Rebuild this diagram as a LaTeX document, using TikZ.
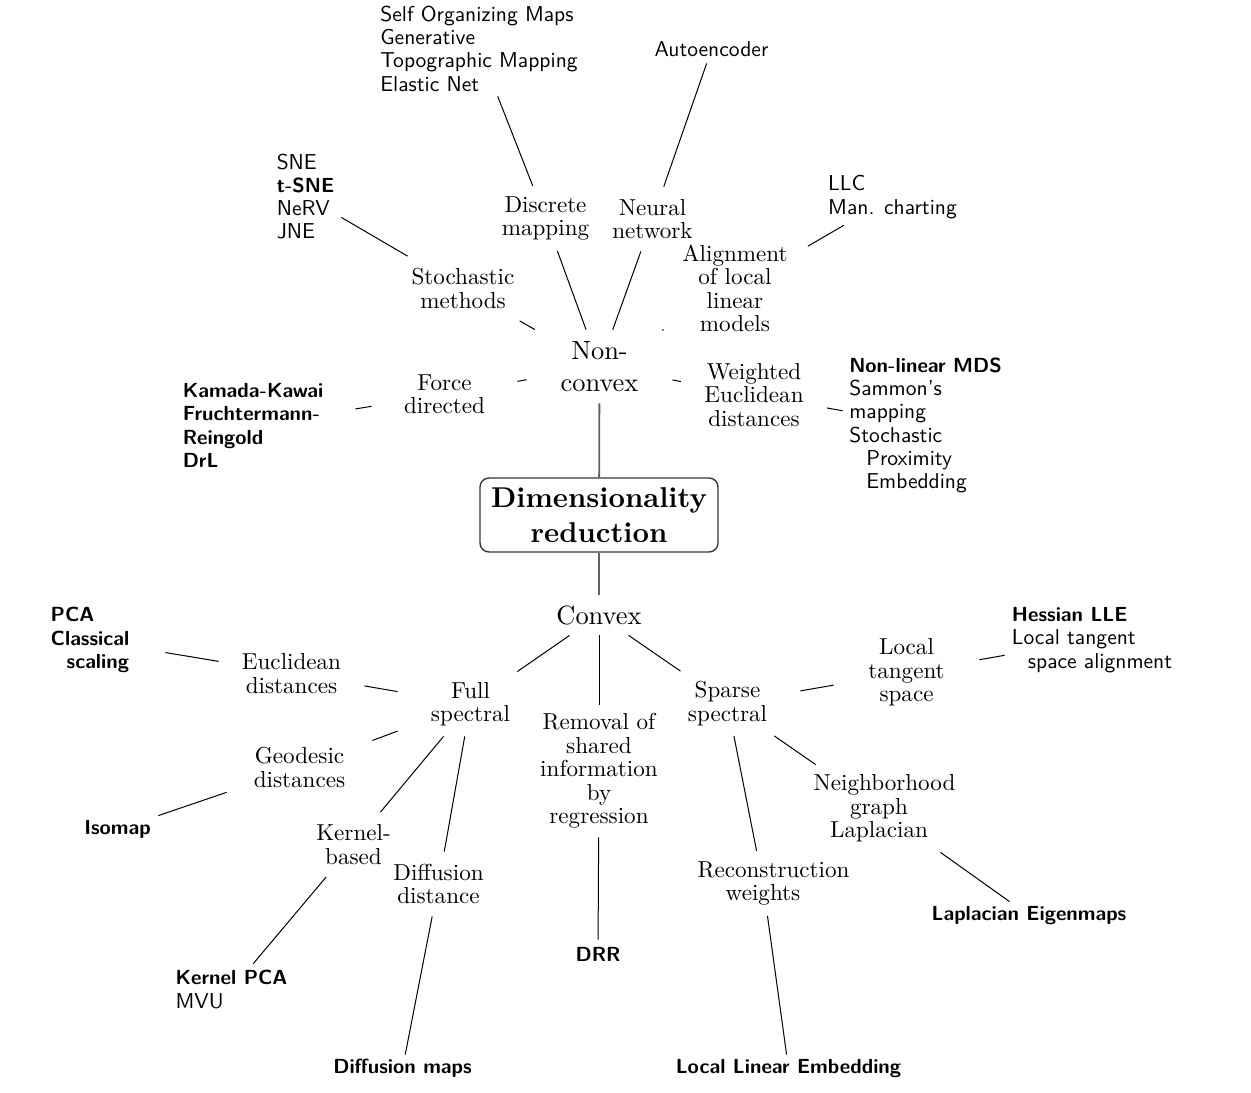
\documentclass[tikz,border=0pt]{standalone}
\usepackage{fontspec}
\setmainfont{lmroman10-regular.otf}[BoldFont=lmroman10-bold.otf, ItalicFont=lmroman10-italic.otf]
\newcommand\lbf[1]{{\fontsize{10.2}{11.65}\selectfont\bfseries #1}}
\begin{document}
\begin{tikzpicture}[x=0.5pt,y=-0.5pt,
 cat/.style={rectangle, align=center, text width=65.5pt, inner xsep=3.5pt, inner ysep=0pt, minimum height=32pt, font=\fontsize{11.55}{11.75}\selectfont},
 catbig/.style={cat, font=\fontsize{13.2}{16}\selectfont},
 leaf/.style={rectangle, align=left, inner sep=0pt, font=\fontsize{10.77}{11.65}\sffamily},
 leafb/.style={leaf, font=\fontsize{10.2}{11.65}\sffamily\bfseries},
 conn/.style={draw=black, line width=0.5pt},
 rootconn/.style={draw=black!62, line width=0.9pt},
 rootbox/.style={rectangle, rounded corners=4.5pt, draw=black!78, line width=0.7pt, align=center, inner sep=0pt, minimum width=119pt, minimum height=37pt, font=\fontsize{14.33}{17.5}\bfseries}]
\useasboundingbox (0,0) rectangle (1251,1092);

% root and main branches
\node[rootbox] (root) at (599,515) {Dimensionality\\reduction};
\node[catbig, minimum height=36.5pt] (nc) at (599.5,366.5) {Non-\\convex};
\node[catbig, minimum height=20pt] (cv) at (599,615) {Convex};

% non-convex categories
\node[cat] (disc) at (545.5,218.5) {Discrete\\mapping};
\node[cat] (neur) at (652.5,219) {Neural\\network};
\node[cat] (stoch) at (463,288.5) {Stochastic\\methods};
\node[cat, minimum height=55pt] (aln) at (735,288.5) {Alignment\\of local\\linear\\models};
\node[cat] (force) at (444.5,394.5) {Force\\directed};
\node[cat, minimum height=43.5pt] (wed) at (754,395) {Weighted\\Euclidean\\distances};

% non-convex leaves
\node[leaf, minimum width=107pt, minimum height=47.5pt] (som) at (479,48.5) {Self Organizing Maps\\Generative\\Topographic Mapping\\Elastic Net};
\node[leaf, minimum width=64pt, minimum height=13.5pt] (ae) at (711.5,49.5) {Autoencoder};
\node[leaf, minimum width=35.5pt, minimum height=47.5pt] (sne) at (305.5,196.5) {SNE\\\lbf{t-SNE}\\NeRV\\JNE};
\node[leafb, minimum width=102pt, minimum height=47.5pt] (kk) at (253,425.5) {Kamada-Kawai\\Fruchtermann-\\Reingold\\DrL};
\node[leaf, minimum width=69.5pt, minimum height=28pt] (llc) at (892.5,197) {LLC\\Man. charting};
\node[leaf, minimum width=82.5pt, minimum height=71pt] (mds) at (925.5,425.5) {\lbf{Non-linear MDS}\\Sammon's\\mapping\\Stochastic\\\hspace*{8.5pt}Proximity\\\hspace*{8.5pt}Embedding};

% convex categories
\node[cat] (full) at (470.5,704) {Full\\spectral};
\node[cat, minimum height=66pt] (rem) at (599,771) {Removal of\\shared\\information\\by\\regression};
\node[cat] (sparse) at (727.5,703.5) {Sparse\\spectral};
\node[cat] (eucl) at (291.5,673.5) {Euclidean\\distances};
\node[cat] (geo) at (299.5,767.5) {Geodesic\\distances};
\node[cat] (kern) at (353.5,844.5) {Kernel-\\based};
\node[cat] (diff) at (438.5,884) {Diffusion\\distance};
\node[cat, minimum height=43.5pt] (lts) at (906.5,672.5) {Local\\tangent\\space};
\node[cat, minimum height=43.5pt] (nbh) at (879,808.5) {\mbox{Neighborhood}\\graph\\Laplacian};
\node[cat] (rec) at (763,883.5) {\mbox{Reconstruction}\\weights};

% convex leaves
\node[leafb, minimum width=75pt, minimum height=38pt] (pca) at (90,640) {PCA\\Classical\\\hspace*{8pt}scaling};
\node[leafb, minimum width=46.5pt, minimum height=13.5pt] (iso) at (117.5,829.5) {Isomap};
\node[leaf, minimum width=61.5pt, minimum height=25.5pt] (kpca) at (231.5,989.5) {\lbf{Kernel PCA}\\MVU};
\node[leafb, minimum width=75.5pt, minimum height=13.5pt] (dmap) at (402.5,1068.5) {Diffusion maps};
\node[leafb, minimum width=29pt, minimum height=14pt] (drr) at (598,954) {DRR};
\node[leaf, minimum width=87pt, minimum height=38pt] (hlle) at (1092,640) {\lbf{Hessian LLE}\\Local tangent\\\hspace*{8pt}space alignment};
\node[leafb, minimum width=104pt, minimum height=13.5pt] (lem) at (1029,915.5) {Laplacian Eigenmaps};
\node[leafb, minimum width=118.5pt, minimum height=13.5pt] (lle) at (788.5,1068.5) {Local Linear Embedding};

% connectors
\draw[rootconn] (nc) -- (root);
\draw[rootconn] (root) -- (cv);

\draw[conn] (nc) -- (disc);
\draw[conn] (nc) -- (neur);
\draw[conn] (nc) -- (stoch);
\draw[conn] (nc) -- (aln);
\draw[conn] (nc) -- (force);
\draw[conn] (nc) -- (wed);
\draw[conn] (disc) -- (som);
\draw[conn] (neur) -- (ae);
\draw[conn] (stoch) -- (sne);
\draw[conn] (force) -- (kk);
\draw[conn] (aln) -- (llc);
\draw[conn] (wed) -- (mds);

\draw[conn] (cv) -- (full);
\draw[conn] (cv) -- (rem);
\draw[conn] (cv) -- (sparse);
\draw[conn] (full) -- (eucl);
\draw[conn] (full) -- (geo);
\draw[conn] (full) -- (kern);
\draw[conn] (full) -- (diff);
\draw[conn] (eucl) -- (pca);
\draw[conn] (geo) -- (iso);
\draw[conn] (kern) -- (kpca);
\draw[conn] (diff) -- (dmap);
\draw[conn] (rem) -- (drr);
\draw[conn] (sparse) -- (lts);
\draw[conn] (sparse) -- (nbh);
\draw[conn] (sparse) -- (rec);
\draw[conn] (lts) -- (hlle);
\draw[conn] (nbh) -- (lem);
\draw[conn] (rec) -- (lle);
\end{tikzpicture}
\end{document}
